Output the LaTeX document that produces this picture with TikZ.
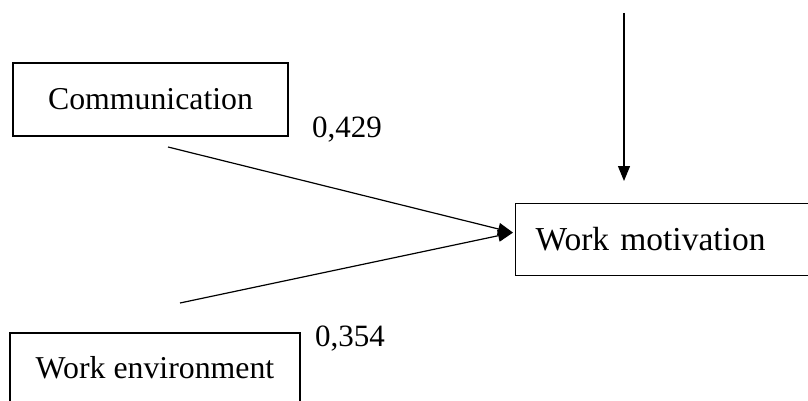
\documentclass[tikz,border=0pt]{standalone}
\usepackage{fontspec}
\setmainfont{Liberation Serif}
\usetikzlibrary{arrows.meta,positioning}

\begin{document}
\begin{tikzpicture}[
    x=1pt, y=-1pt,
    >={Triangle[length=15pt,width=12pt]},
    box/.style={draw, line width=1.2pt, inner sep=0pt, align=center, font=\fontsize{31.8}{38}\selectfont},
    coef/.style={anchor=base, font=\fontsize{31}{37}\selectfont},
    path/.style={->, line width=1.2pt},
]
\useasboundingbox (0,0) rectangle (808,401);
\clip (0,0) rectangle (808,401);

% independent variables
\node[box, minimum width=275pt, minimum height=73pt] (comm) at (150.5,99.5) {Communication};
\node[box, minimum width=290pt, minimum height=70pt] (env) at (155,368) {Work environment};

% dependent variable
\node[box, anchor=north west, minimum height=72pt, text width=290pt, inner xsep=20pt,
      align=left, font=\fontsize{33.5}{40}\selectfont] (mot) at (515,203) {Work motivation};

% path coefficients
\node[coef] (c1) at (347,138) {0,429};
\node[coef] (c2) at (350,346) {0,354};

% connectors
\coordinate (commout) at (168,147);
\coordinate (envout) at (180,303);
\coordinate (motin) at ([xshift=-2pt,yshift=7pt]mot.west);
\coordinate (errtop) at (624,13);
\coordinate (errend) at (624,181);
\draw[path] (commout) -- (motin);
\draw[path] (envout) -- (motin);
\draw[path] (errtop) -- (errend);

\end{tikzpicture}
\end{document}
